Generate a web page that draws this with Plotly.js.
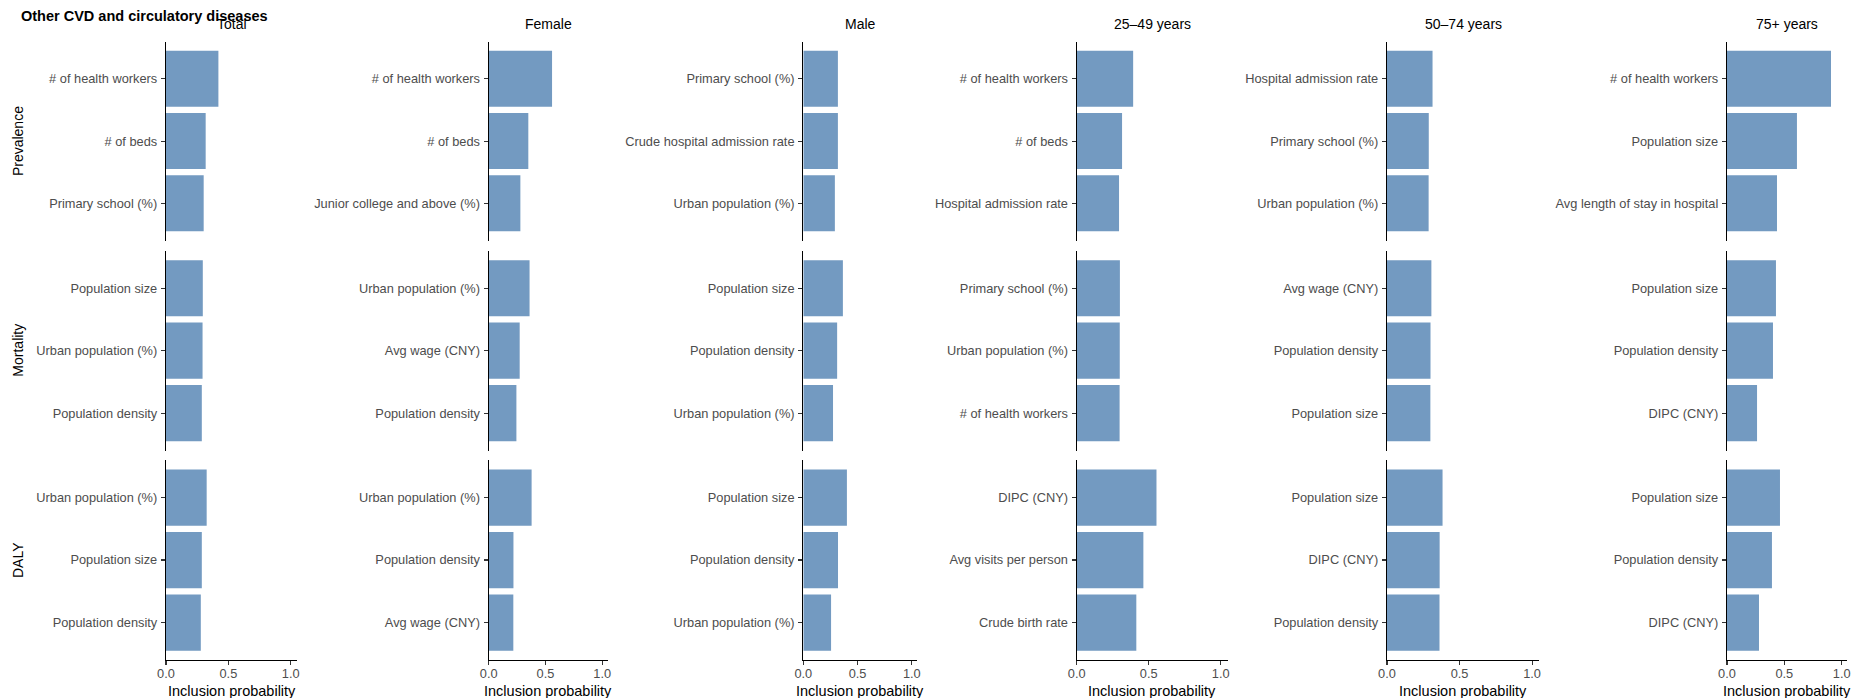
<!DOCTYPE html>
<html>
<head>
<meta charset="utf-8">
<script src="https://cdn.plot.ly/plotly-3.0.1.min.js"></script>
<style>
  html, body { margin: 0; padding: 0; background: #ffffff; }
  #chart { width: 1854px; height: 698px; }
</style>
</head>
<body>
<div id="chart"></div>
<script>
// ---------------- DATA ----------------
const chartTitle = "Other CVD and circulatory diseases";
const groups = ["Total", "Female", "Male", "25\u201349 years", "50\u201374 years", "75+ years"];
const measures = ["Prevalence", "Mortality", "DALY"];
const xTickVals = [0, 0.5, 1.0];
const xTickText = ["0.0", "0.5", "1.0"];
const xTitle = "Inclusion probability";

// labels / values per group, one inner list per measure (Prevalence, Mortality, DALY), top to bottom
const labelsTotal = [
  ["# of health workers", "# of beds", "Primary school (%)"],
  ["Population size", "Urban population (%)", "Population density"],
  ["Urban population (%)", "Population size", "Population density"]
];
const valuesTotal = [
  [0.42, 0.318, 0.302],
  [0.295, 0.293, 0.287],
  [0.326, 0.287, 0.279]
];

const labelsFemale = [
  ["# of health workers", "# of beds", "Junior college and above (%)"],
  ["Urban population (%)", "Avg wage (CNY)", "Population density"],
  ["Urban population (%)", "Population density", "Avg wage (CNY)"]
];
const valuesFemale = [
  [0.558, 0.349, 0.279],
  [0.36, 0.273, 0.244],
  [0.378, 0.218, 0.217]
];

const labelsMale = [
  ["Primary school (%)", "Crude hospital admission rate", "Urban population (%)"],
  ["Population size", "Population density", "Urban population (%)"],
  ["Population size", "Population density", "Urban population (%)"]
];
const valuesMale = [
  [0.319, 0.319, 0.291],
  [0.365, 0.312, 0.274],
  [0.402, 0.32, 0.256]
];

const labelsAge25 = [
  ["# of health workers", "# of beds", "Hospital admission rate"],
  ["Primary school (%)", "Urban population (%)", "# of health workers"],
  ["DIPC (CNY)", "Avg visits per person", "Crude birth rate"]
];
const valuesAge25 = [
  [0.392, 0.315, 0.294],
  [0.300, 0.299, 0.298],
  [0.554, 0.463, 0.414]
];

const labelsAge50 = [
  ["Hospital admission rate", "Primary school (%)", "Urban population (%)"],
  ["Avg wage (CNY)", "Population density", "Population size"],
  ["Population size", "DIPC (CNY)", "Population density"]
];
const valuesAge50 = [
  [0.314, 0.288, 0.287],
  [0.306, 0.300, 0.299],
  [0.383, 0.363, 0.362]
];

const labelsAge75 = [
  ["# of health workers", "Population size", "Avg length of stay in hospital"],
  ["Population size", "Population density", "DIPC (CNY)"],
  ["Population size", "Population density", "DIPC (CNY)"]
];
const valuesAge75 = [
  [0.907, 0.61, 0.436],
  [0.427, 0.401, 0.262],
  [0.462, 0.392, 0.279]
];

const allLabels = [labelsTotal, labelsFemale, labelsMale, labelsAge25, labelsAge50, labelsAge75];
const allValues = [valuesTotal, valuesFemale, valuesMale, valuesAge25, valuesAge50, valuesAge75];

// ---------------- LAYOUT GEOMETRY (pixels) ----------------
const W = 1854, H = 698;
const colX = [[166, 297], [488.7, 607.9], [803.3, 917.2], [1076.7, 1227.9], [1387, 1539.3], [1727, 1847.4]];
const rowY = [[41.5, 240.7], [250.8, 450.5], [460, 660]];
const px = v => v / W;
const py = v => 1 - v / H;

const FONT = "Liberation Sans, Arial, Helvetica, sans-serif";
const BAR = "#739AC1";
const tickFont = { family: FONT, size: 12.8, color: "#4D4D4D" };

const traces = [];
const layout = {
  width: W, height: H,
  margin: { l: 0, r: 0, t: 0, b: 0 },
  paper_bgcolor: "#ffffff",
  plot_bgcolor: "rgba(0,0,0,0)",
  showlegend: false,
  hovermode: false,
  font: { family: FONT },
  annotations: [],
  bargap: 0.1
};

let n = 0;
for (let c = 0; c < groups.length; c++) {
  for (let r = 0; r < measures.length; r++) {
    n++;
    const xa = n === 1 ? "xaxis" : "xaxis" + n;
    const ya = n === 1 ? "yaxis" : "yaxis" + n;
    const xr = n === 1 ? "x" : "x" + n;
    const yr = n === 1 ? "y" : "y" + n;
    const labs = allLabels[c][r];
    const vals = allValues[c][r];
    traces.push({
      type: "bar",
      orientation: "h",
      x: vals,
      y: labs,
      xaxis: xr,
      yaxis: yr,
      width: 0.9,
      marker: { color: BAR, line: { width: 0 } },
      hoverinfo: "skip"
    });
    const bottom = (r === measures.length - 1);
    layout[xa] = {
      domain: [px(colX[c][0]), px(colX[c][1])],
      anchor: yr,
      range: [0, 1.05],
      showgrid: false,
      zeroline: false,
      showline: bottom,
      linecolor: "#000000",
      linewidth: 1.2,
      ticks: bottom ? "outside" : "",
      ticklen: 4,
      tickwidth: 1.1,
      tickcolor: "#333333",
      tickvals: xTickVals,
      ticktext: xTickText,
      showticklabels: bottom,
      tickfont: tickFont,
      ticklabelstandoff: -3,
      fixedrange: true
    };
    layout[ya] = {
      domain: [py(rowY[r][1]), py(rowY[r][0])],
      anchor: xr,
      type: "category",
      categoryorder: "array",
      categoryarray: labs,
      range: [2.6, -0.6],
      showgrid: false,
      zeroline: false,
      showline: true,
      linecolor: "#000000",
      linewidth: 1.2,
      ticks: "outside",
      ticklen: 4,
      tickwidth: 1.1,
      tickcolor: "#333333",
      tickfont: tickFont,
      ticklabelstandoff: 1,
      fixedrange: true
    };
  }
  // strip title
  const cx = (colX[c][0] + colX[c][1]) / 2;
  layout.annotations.push({
    text: groups[c], xref: "paper", yref: "paper",
    x: px(cx), y: py(24.5), xanchor: "center", yanchor: "middle",
    showarrow: false, font: { family: FONT, size: 14, color: "#000000" }
  });
  // x axis title
  layout.annotations.push({
    text: xTitle, xref: "paper", yref: "paper",
    x: px(cx), y: py(691), xanchor: "center", yanchor: "middle",
    showarrow: false, font: { family: FONT, size: 14.5, color: "#000000" }
  });
}

// row labels
for (let r = 0; r < measures.length; r++) {
  const cy = (rowY[r][0] + rowY[r][1]) / 2;
  layout.annotations.push({
    text: measures[r], xref: "paper", yref: "paper",
    x: px(18), y: py(cy), xanchor: "center", yanchor: "middle",
    textangle: -90,
    showarrow: false, font: { family: FONT, size: 14, color: "#000000" }
  });
}

// main title
layout.annotations.push({
  text: "<b>" + chartTitle + "</b>", xref: "paper", yref: "paper",
  x: px(19), y: py(16), xanchor: "left", yanchor: "middle",
  showarrow: false, font: { family: FONT, size: 14.5, color: "#000000" }
});

Plotly.newPlot("chart", traces, layout, { displayModeBar: false, staticPlot: true });
</script>
</body>
</html>
